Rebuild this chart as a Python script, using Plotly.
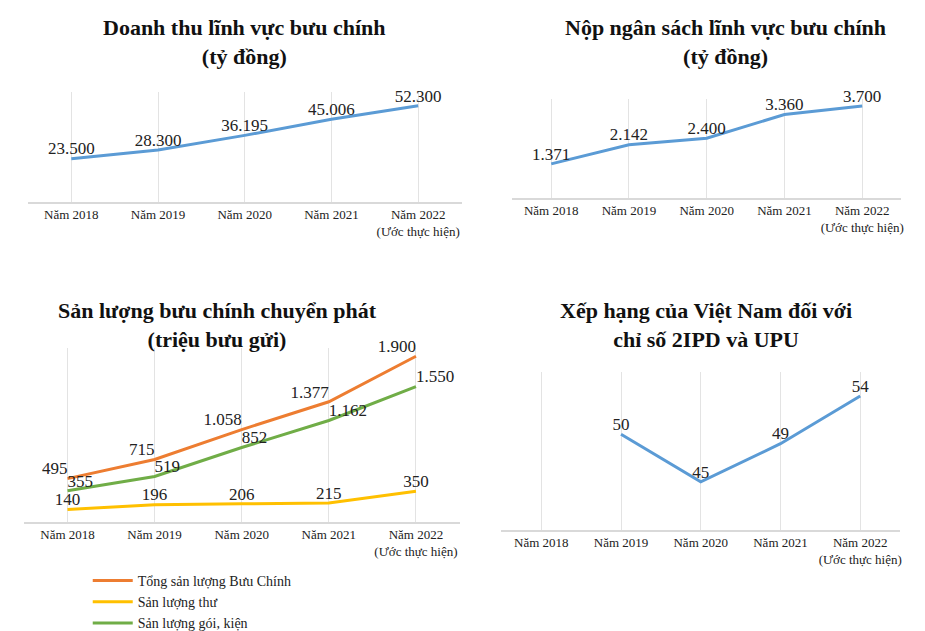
import plotly.graph_objects as go

years = ["Năm 2018", "Năm 2019", "Năm 2020", "Năm 2021", "Năm 2022"]
tick_labels = ["Năm 2018", "Năm 2019", "Năm 2020", "Năm 2021", "Năm 2022<br>(Ước thực hiện)"]

revenue = [23500, 28300, 36195, 45006, 52300]
budget = [1371, 2142, 2400, 3360, 3700]
total_volume = [495, 715, 1058, 1377, 1900]
letters = [140, 196, 206, 215, 350]
parcels = [355, 519, 852, 1162, 1550]
ranking = [None, 50, 45, 49, 54]

W, H = 925, 631
BLUE = "#5b9bd5"
SERIF = "Liberation Serif"


def vn(v):
    return f"{v:,}".replace(",", ".")


def xd(a, b):
    return [a / W, b / W]


def yd(top, bottom):
    return [1 - bottom / H, 1 - top / H]


fig = go.Figure()

panels = [
    ("x", "y", xd(20, 455), yd(85, 197), [0, 60000]),
    ("x2", "y2", xd(506, 896), yd(92, 193), [0, 4000]),
    ("x3", "y3", xd(16, 453), yd(345, 522), [0, 2000]),
    ("x4", "y4", xd(495, 895), yd(370, 530), [40, 56.5]),
]

series = [
    (0, revenue, BLUE, "rev", "top center"),
    (1, budget, BLUE, "bud", "top center"),
    (2, total_volume, "#ed7d31", "Tổng sản lượng Bưu Chính", "top left"),
    (2, letters, "#ffc000", "Sản lượng thư", "top center"),
    (2, parcels, "#70ad47", "Sản lượng gói, kiện", "top right"),
    (3, ranking, BLUE, "rank", "top center"),
]

for idx, vals, color, name, pos in series:
    xa, ya = panels[idx][0], panels[idx][1]
    fig.add_trace(go.Scatter(
        x=years, y=vals, xaxis=xa, yaxis=ya, mode="lines+text",
        line=dict(color=color, width=3),
        text=[vn(v) if v is not None else "" for v in vals],
        textposition=pos, textfont=dict(family=SERIF, size=17, color="#222"),
        name=name, showlegend=(idx == 2), cliponaxis=False,
    ))

layout = {}
for i, (xa, ya, xdom, ydom, yr) in enumerate(panels):
    sx = "" if i == 0 else str(i + 1)
    layout["xaxis" + sx] = dict(
        domain=xdom, anchor=ya, type="category", categoryarray=years,
        tickvals=years, ticktext=tick_labels, showgrid=True, gridcolor="#e3e3e3",
        showline=True, linecolor="#d9d9d9", linewidth=1.5, ticks="",
        tickfont=dict(family=SERIF, size=13, color="#222"), range=[-0.5, 4.5],
    )
    layout["yaxis" + sx] = dict(domain=ydom, anchor=xa, range=yr, visible=False)

fig.update_layout(**layout)

titles = [
    (237, 35, "Doanh thu lĩnh vực bưu chính<br>(tỷ đồng)"),
    (720, 35, "Nộp ngân sách lĩnh vực bưu chính<br>(tỷ đồng)"),
    (210, 322, "Sản lượng bưu chính chuyển phát<br>(triệu bưu gửi)"),
    (700, 322, "Xếp hạng của Việt Nam đối với<br>chỉ số 2IPD và UPU"),
]
for cx, cy, t in titles:
    fig.add_annotation(x=cx / W, y=1 - cy / H, xref="paper", yref="paper",
                       xanchor="center", yanchor="middle",
                       text=f"<b>{t}</b>", showarrow=False,
                       font=dict(family=SERIF, size=22, color="#111"))

fig.update_layout(
    width=W, height=H, margin=dict(l=0, r=0, t=0, b=0),
    plot_bgcolor="white", paper_bgcolor="white",
    legend=dict(x=80 / W, y=1 - 566 / H, xanchor="left", yanchor="top",
                font=dict(family=SERIF, size=14, color="#222"),
                tracegroupgap=0, itemwidth=40, bgcolor="rgba(0,0,0,0)"),
)

fig.write_html("out.html")
